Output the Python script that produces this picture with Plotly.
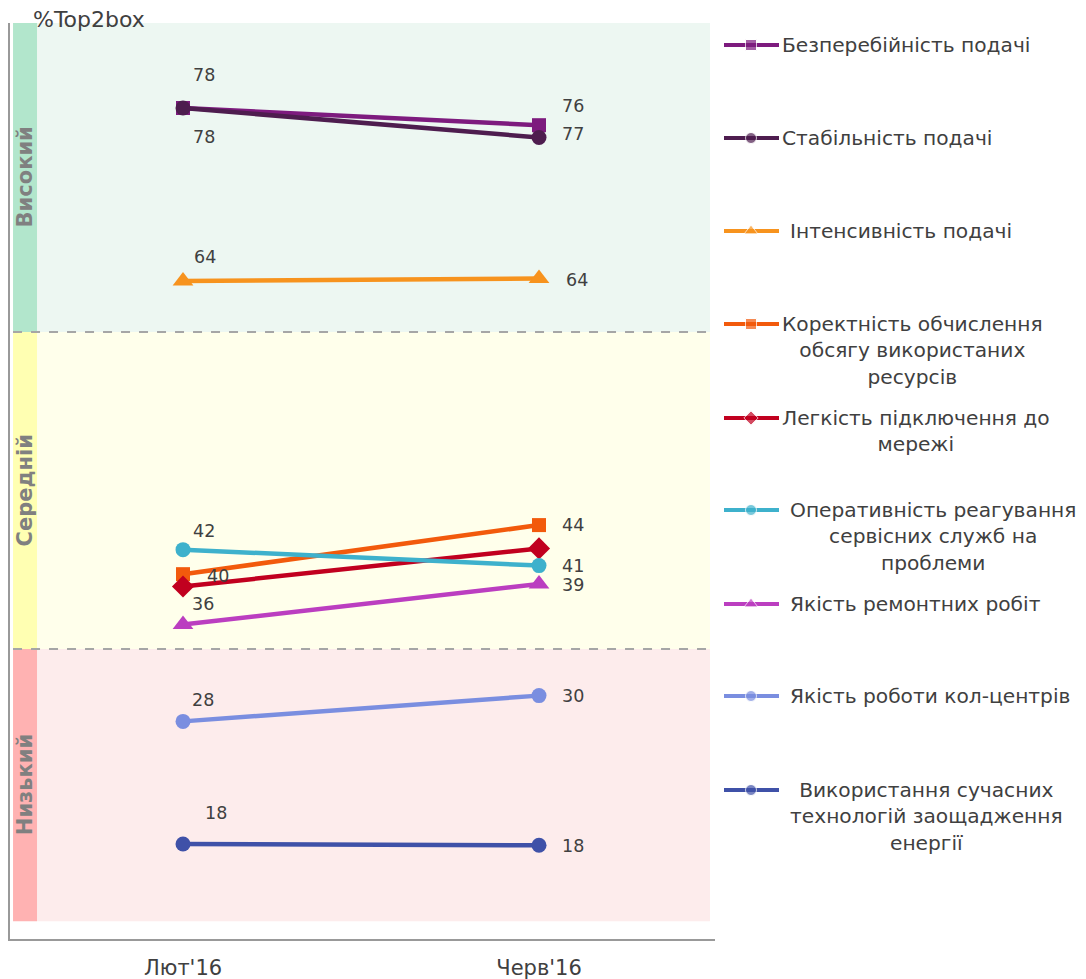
import plotly.graph_objects as go

# ---------------- data ----------------
periods = ["Лют'16", "Черв'16"]

series_names = [
    "Безперебійність подачі",
    "Стабільність подачі",
    "Інтенсивність подачі",
    "Коректність обчислення<br>обсягу використаних<br>ресурсів",
    "Легкість підключення до<br>мережі",
    "Оперативність реагування<br>сервісних служб на<br>проблеми",
    "Якість ремонтних робіт",
    "Якість роботи кол-центрів",
    "Використання сучасних<br>технологій заощадження<br>енергії",
]

v_bezperebiinist = [78.0, 76.6]
v_stabilnist = [78.0, 75.6]
v_intensyvnist = [63.9, 64.1]
v_korektnist = [40.0, 44.0]
v_lehkist = [39.0, 42.1]
v_operatyvnist = [42.0, 40.7]
v_remont = [35.9, 39.2]
v_kolcentry = [28.0, 30.1]
v_tekhnolohii = [18.0, 17.9]

lbl_bezperebiinist = ["78", "76"]
lbl_stabilnist = ["78", "77"]
lbl_intensyvnist = ["64", "64"]
lbl_korektnist = ["40", "44"]
lbl_lehkist = [None, None]
lbl_operatyvnist = ["42", "41"]
lbl_remont = ["36", "39"]
lbl_kolcentry = ["28", "30"]
lbl_tekhnolohii = ["18", "18"]

zone_names = ["Високий", "Середній", "Низький"]
zone_bounds = [(59.75, 84.93), (33.9, 59.75), (11.7, 33.9)]

y_title = "%Top2box"

# ---------------- styles ----------------
values = [v_bezperebiinist, v_stabilnist, v_intensyvnist, v_korektnist, v_lehkist,
          v_operatyvnist, v_remont, v_kolcentry, v_tekhnolohii]
labels = [lbl_bezperebiinist, lbl_stabilnist, lbl_intensyvnist, lbl_korektnist, lbl_lehkist,
          lbl_operatyvnist, lbl_remont, lbl_kolcentry, lbl_tekhnolohii]
colors = ["#7D1B7E", "#4E1D4F", "#F7931E", "#F25A0C", "#C1001F",
          "#3EB1CC", "#BB3EC0", "#7A8EE0", "#3F51A8"]
symbols = ["square", "circle", "triangle-up", "square", "diamond",
           "circle", "triangle-up", "circle", "circle"]
msizes = [14, 15, 18, 14, 17, 15, 18, 15, 15]
leg_msizes = [11, 11, 12, 11, 11, 11, 12, 11, 11]
# label offsets (px) for [left, right] points
offsets = [
    [(21, 33), (34, 19)],
    [(21, -29), (34, 3)],
    [(22, 24), (38, -1)],
    [(35, -2), (34, 0)],
    [(0, 0), (0, 0)],
    [(21, 19), (34, 0)],
    [(20, 20), (34, -1)],
    [(20, 21), (34, 0)],
    [(33, 31), (34, -1)],
]
# legend positions in screenshot pixels
leg_y = [45, 138, 231, 324, 418, 510, 604, 696, 790]
leg_text_x = [780, 780, 788, 780, 780, 788, 788, 788, 788]
zone_fill = ["#EDF7F2", "#FFFFEB", "#FDECEC"]
zone_strip = ["#B2E6CC", "#FFFFB2", "#FFB2B2"]

FONT = "DejaVu Sans"
TXT = "#404040"
LEG_FS = 20.2
LBL_FS = 17.5

OFF = 8                     # page body margin
W, H = 1086 - OFF, 979 - OFF
ML, MT, MB = 2, 15, 40
PW, PH = W - ML, H - MT - MB
x_main_end = (715 - OFF - ML) / PW
XR = [-0.486, 1.4944]
YR = [10.26, 84.93]
strip_x0, strip_x1, band_x1 = -0.4775, -0.4101, 1.4803

fig = go.Figure()
xs = [0, 1]

shapes = []
annotations = []
for (y0, y1), fc, sc in zip(zone_bounds, zone_fill, zone_strip):
    shapes.append(dict(type="rect", xref="x", yref="y", x0=strip_x1, x1=band_x1, y0=y0, y1=y1,
                       fillcolor=fc, line_width=0, layer="below"))
    shapes.append(dict(type="rect", xref="x", yref="y", x0=strip_x0, x1=strip_x1, y0=y0, y1=y1,
                       fillcolor=sc, line_width=0, layer="below"))
for yb in [zone_bounds[0][0], zone_bounds[1][0]]:
    shapes.append(dict(type="line", xref="x", yref="y", x0=strip_x0, x1=band_x1, y0=yb, y1=yb,
                       line=dict(color="#A6A6A6", width=2, dash="dash"), layer="below"))
for name, (y0, y1) in zip(zone_names, zone_bounds):
    annotations.append(dict(xref="x", yref="y", x=(strip_x0 + strip_x1) / 2, y=(y0 + y1) / 2,
                            text=name, textangle=-90, showarrow=False,
                            font=dict(family=FONT, size=21, color="#808080", weight="bold")))

for i, name in enumerate(series_names):
    fig.add_trace(go.Scatter(
        x=xs, y=values[i], mode="lines+markers", name=name, showlegend=False,
        line=dict(color=colors[i], width=4.5),
        marker=dict(symbol=symbols[i], size=msizes[i], color=colors[i]),
        xaxis="x", yaxis="y", hoverinfo="skip"))
    for j in range(2):
        if labels[i][j] is None:
            continue
        dx, dy = offsets[i][j]
        annotations.append(dict(xref="x", yref="y", x=xs[j], y=values[i][j], text=labels[i][j],
                                showarrow=False, xshift=dx, yshift=dy,
                                font=dict(family=FONT, size=LBL_FS, color=TXT)))

# manual legend on its own pixel-scaled axes (screenshot pixel coordinates)
for i, name in enumerate(series_names):
    fig.add_trace(go.Scatter(
        x=[724, 751, 779], y=[leg_y[i]] * 3, mode="lines+markers", showlegend=False,
        line=dict(color=colors[i], width=4),
        marker=dict(symbol=symbols[i], size=[0, leg_msizes[i], 0], color=colors[i]),
        xaxis="x2", yaxis="y2", hoverinfo="skip"))
    nlines = name.count("<br>") + 1
    lh = 1.3 * LEG_FS
    annotations.append(dict(xref="x2", yref="y2", x=leg_text_x[i],
                            y=leg_y[i] + (nlines - 1) * lh / 2,
                            text=name, showarrow=False, xanchor="left", yanchor="middle",
                            align="center", font=dict(family=FONT, size=LEG_FS, color=TXT)))

annotations.append(dict(xref="paper", yref="paper", x=(31 - OFF - ML) / PW,
                        y=(PH + MT - (19 - OFF)) / PH,
                        text=y_title, showarrow=False, xanchor="left", yanchor="middle",
                        font=dict(family=FONT, size=22, color=TXT)))

fig.update_layout(
    width=W, height=H,
    margin=dict(l=ML, r=0, t=MT, b=MB, autoexpand=False),
    paper_bgcolor="white", plot_bgcolor="white",
    shapes=shapes, annotations=annotations,
    xaxis=dict(domain=[0, x_main_end], range=XR, tickvals=xs, ticktext=periods,
               showgrid=False, zeroline=False, showline=True, linecolor="#999999", linewidth=2,
               ticks="", tickfont=dict(family=FONT, size=21, color=TXT), anchor="y",
               ticklabelstandoff=9, automargin=False),
    yaxis=dict(range=YR, showticklabels=False, showgrid=False,
               zeroline=False, showline=True, linecolor="#999999", linewidth=2, ticks="",
               anchor="x", automargin=False),
    xaxis2=dict(domain=[(724 - OFF - ML) / PW, 1], range=[724, 1086], visible=False, anchor="y2"),
    yaxis2=dict(domain=[0, 1], range=[979 - OFF - MB + OFF, MT + OFF], visible=False, anchor="x2"),
)

fig.write_html("out.html")
